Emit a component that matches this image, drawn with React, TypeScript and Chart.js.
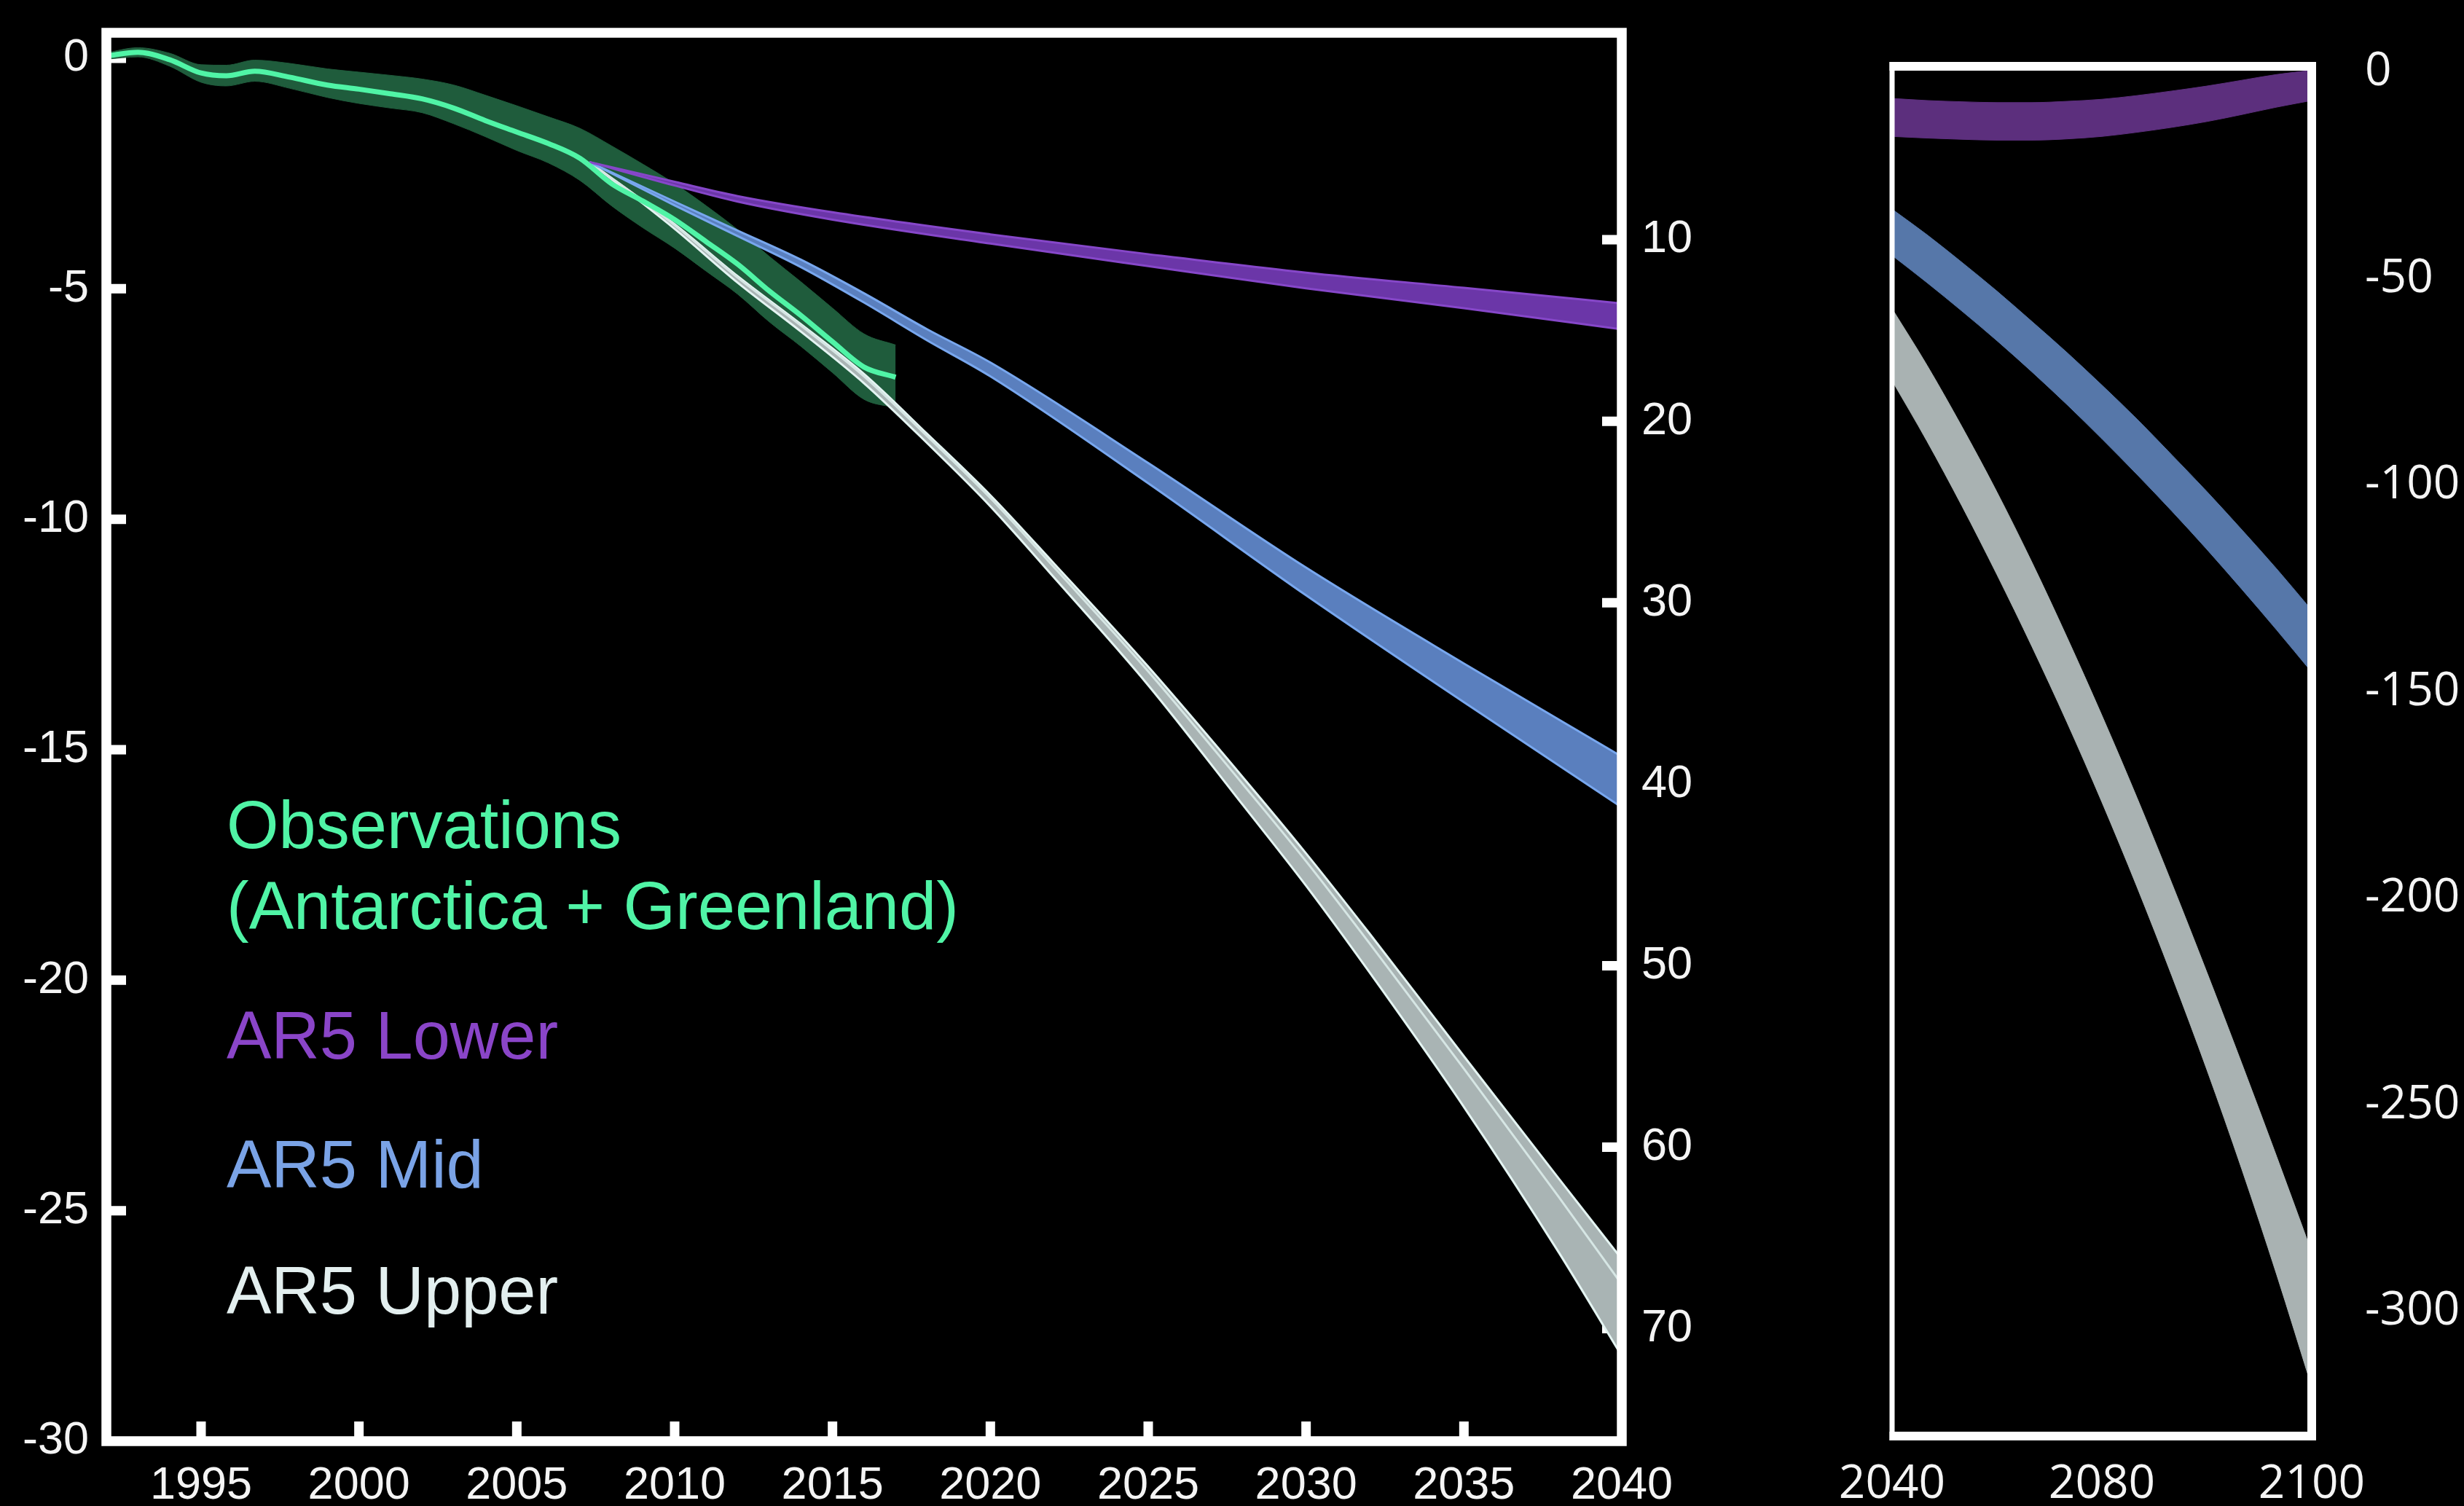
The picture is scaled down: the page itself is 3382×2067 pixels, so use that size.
import React, { useEffect, useRef } from "react";
import { Chart, registerables } from "chart.js";

Chart.register(...registerables);

// ---------------- DATA ----------------
// Main panel axes
const X_TICKS = [1995, 2000, 2005, 2010, 2015, 2020, 2025, 2030, 2035, 2040];
const Y_TICKS_IN = [0, -5, -10, -15, -20, -25, -30];
const Y_TICKS_CM = [10, 20, 30, 40, 50, 60, 70];

// Observations (Antarctica + Greenland), inches
const OBS_YEARS = [1992, 1993, 1994, 1995, 1995.8, 1996.7, 1997.8, 1999, 2000, 2001, 2002, 2003, 2004, 2005, 2006, 2007, 2008, 2009, 2010, 2011, 2012, 2013, 2014, 2015, 2016, 2017];
const OBS_MID = [0.05, 0.13, -0.03, -0.32, -0.38, -0.28, -0.41, -0.58, -0.67, -0.77, -0.88, -1.08, -1.35, -1.6, -1.85, -2.17, -2.72, -3.1, -3.5, -3.98, -4.47, -5.05, -5.58, -6.15, -6.7, -6.92];
const OBS_HIGH = [0.12, 0.23, 0.11, -0.14, -0.15, -0.04, -0.11, -0.23, -0.3, -0.37, -0.45, -0.58, -0.8, -1.03, -1.27, -1.52, -1.9, -2.3, -2.72, -3.2, -3.72, -4.3, -4.85, -5.42, -5.98, -6.22];
const OBS_LOW = [-0.02, 0.03, -0.17, -0.52, -0.6, -0.5, -0.65, -0.85, -0.98, -1.08, -1.18, -1.42, -1.7, -2.0, -2.27, -2.65, -3.2, -3.68, -4.12, -4.62, -5.12, -5.72, -6.25, -6.82, -7.4, -7.58];

// AR5 projections to 2040, inches
const LOWER_YEARS = [2007.3, 2010, 2012, 2015, 2020, 2025, 2030, 2035, 2040];
const LOWER_HIGH = [-2.25, -2.68, -2.99, -3.34, -3.82, -4.25, -4.65, -4.98, -5.32];
const LOWER_LOW = [-2.25, -2.76, -3.11, -3.5, -4.02, -4.51, -4.99, -5.42, -5.88];

const MID_YEARS = [2007.3, 2010, 2012, 2014, 2016, 2018, 2020, 2025, 2030, 2035, 2040];
const MID_HIGH = [-2.25, -3.11, -3.74, -4.37, -5.1, -5.88, -6.6, -8.78, -11.05, -13.13, -15.15];
const MID_LOW = [-2.25, -3.19, -3.86, -4.53, -5.3, -6.12, -6.9, -9.22, -11.65, -13.97, -16.25];

const UPPER_YEARS = [2007.3, 2010, 2012, 2014, 2016, 2018, 2020, 2022, 2025, 2028, 2030, 2032, 2035, 2038, 2040];
const UPPER_HIGH = [-2.25, -3.6, -4.73, -5.77, -6.85, -8.15, -9.48, -10.95, -13.2, -15.6, -17.25, -18.98, -21.65, -24.3, -26.05];
const UPPER_INNER = [-2.25, -3.62, -4.76, -5.8, -6.9, -8.2, -9.54, -11.03, -13.3, -15.75, -17.42, -19.19, -21.92, -24.7, -26.6];
const UPPER_LOW = [-2.25, -3.7, -4.87, -5.93, -7.05, -8.35, -9.72, -11.25, -13.6, -16.2, -17.95, -19.82, -22.75, -25.9, -28.15];

// Inset panel (2040-2100), cm
const INSET_X_TICKS = [2040, 2070, 2100];
const INSET_X_LABELS = ["2040", "2080", "2100"];
const INSET_Y_TICKS = [0, -50, -100, -150, -200, -250, -300];
const INSET_YEARS = [2040, 2045, 2050, 2055, 2060, 2065, 2070, 2075, 2080, 2085, 2090, 2095, 2100];
const INSET_LOWER_HIGH = [-6.4, -6.9, -7.2, -7.4, -7.4, -7.1, -6.6, -5.7, -4.6, -3.4, -2.0, -0.6, 0.4];
const INSET_LOWER_LOW = [-15.6, -16.0, -16.3, -16.5, -16.5, -16.2, -15.6, -14.6, -13.4, -12.0, -10.3, -8.5, -6.9];
const INSET_MID_HIGH = [-33.2, -39.4, -46.1, -53.05, -60.4, -67.9, -75.8, -84.0, -92.7, -101.55, -110.8, -120.3, -130.3];
const INSET_MID_LOW = [-44.4, -51.0, -57.9, -65.05, -72.6, -80.5, -88.8, -97.4, -106.3, -115.55, -125.2, -135.1, -145.3];
const INSET_UPPER_HIGH = [-57.3, -71.0, -85.9, -101.7, -118.7, -136.8, -155.75, -175.6, -196.4, -217.9, -240, -262.6, -285.7];
const INSET_UPPER_LOW = [-74.7, -89.4, -105.1, -121.7, -139.1, -157.4, -176.75, -197.2, -218.8, -241.5, -265.6, -291.2, -318.3];

// Legend
const LEGEND_LINES = ["Observations", "(Antarctica + Greenland)", "AR5 Lower", "AR5 Mid", "AR5 Upper"];
const LEGEND_COLORS = ["#50f4a6", "#50f4a6", "#8a45c8", "#7aa3e6", "#e3efef"];

// ---------------- STYLE ----------------
const MAIN_FONT = "'Liberation Sans', Arial, sans-serif";
const INSET_FONT = "'Open Sans', 'DejaVu Sans', sans-serif";
const IN_TO_CM = 2.54;

const pts = (xs: number[], ys: number[]) => xs.map((x, i) => ({ x, y: ys[i] }));

function lineSet(xs: number[], ys: number[], color: string, width: number) {
  return {
    data: pts(xs, ys),
    borderColor: color,
    borderWidth: width,
    pointRadius: 0,
    fill: false,
    cubicInterpolationMode: "monotone",
  };
}

function bandSets(xs: number[], hi: number[], lo: number[], fill: string, edge: string, edgeWidth: number) {
  return [
    lineSet(xs, hi, edge, edgeWidth),
    { ...lineSet(xs, lo, edge, edgeWidth), fill: "-1", backgroundColor: fill },
  ];
}

const noPad = (s: any) => {
  s.paddingTop = 0;
  s.paddingBottom = 0;
  s.paddingLeft = 0;
  s.paddingRight = 0;
};

const mainDecor = {
  id: "mainDecor",
  beforeDatasetsDraw(chart: any) {
    const { ctx, chartArea: a, scales } = chart;
    const TL = 27;
    ctx.save();
    ctx.strokeStyle = "#ffffff";
    ctx.lineWidth = 13;
    ctx.lineCap = "butt";
    ctx.beginPath();
    for (const t of scales.x.ticks) {
      if (t.value >= scales.x.max || t.value <= scales.x.min) continue;
      const px = scales.x.getPixelForValue(t.value);
      ctx.moveTo(px, a.bottom);
      ctx.lineTo(px, a.bottom - TL);
    }
    for (const t of scales.y.ticks) {
      if (t.value <= scales.y.min) continue;
      const py = scales.y.getPixelForValue(t.value);
      ctx.moveTo(a.left, py);
      ctx.lineTo(a.left + TL, py);
    }
    for (const t of scales.y2.ticks) {
      const py = scales.y2.getPixelForValue(t.value);
      ctx.moveTo(a.right, py);
      ctx.lineTo(a.right - TL, py);
    }
    ctx.stroke();
    ctx.restore();
  },
  afterDraw(chart: any) {
    const { ctx, chartArea: a } = chart;
    ctx.save();
    ctx.strokeStyle = "#ffffff";
    ctx.lineWidth = 13.5;
    ctx.strokeRect(a.left, a.top, a.right - a.left, a.bottom - a.top);
    // legend text
    const baselines = [1164, 1275, 1453, 1630, 1803];
    ctx.font = `92px ${MAIN_FONT}`;
    ctx.textAlign = "left";
    ctx.textBaseline = "alphabetic";
    LEGEND_LINES.forEach((s, i) => {
      ctx.fillStyle = LEGEND_COLORS[i];
      ctx.fillText(s, 311, baselines[i]);
    });
    ctx.restore();
  },
};

const insetDecor = {
  id: "insetDecor",
  afterDraw(chart: any) {
    const { ctx, chartArea: a } = chart;
    ctx.save();
    ctx.fillStyle = "#ffffff";
    const w = a.right - a.left;
    const h = a.bottom - a.top;
    ctx.fillRect(a.left - 3.5, a.top - 6, w + 9.5, 12);
    ctx.fillRect(a.left - 3.5, a.bottom - 6, w + 9.5, 12);
    ctx.fillRect(a.left - 3.5, a.top - 6, 7, h + 12);
    ctx.fillRect(a.right - 6, a.top - 6, 12, h + 12);
    ctx.restore();
  },
};

export default function App() {
  const mainRef = useRef<HTMLCanvasElement>(null);
  const insetRef = useRef<HTMLCanvasElement>(null);

  useEffect(() => {
    document.body.style.margin = "0";
    document.body.style.background = "#000";

    const tickColor = "#f4f4f4";

    const mainChart = new Chart(mainRef.current as HTMLCanvasElement, {
      type: "line",
      data: {
        datasets: [
          lineSet(OBS_YEARS, OBS_MID, "#50f4a6", 7),
          ...bandSets(LOWER_YEARS, LOWER_HIGH, LOWER_LOW, "#6b36a8", "#8647c9", 3),
          ...bandSets(MID_YEARS, MID_HIGH, MID_LOW, "#5a7fbe", "#78a7ee", 3),
          lineSet(UPPER_YEARS, UPPER_INNER, "#d6e6e4", 3),
          ...bandSets(UPPER_YEARS, UPPER_HIGH, UPPER_LOW, "#a9b4b4", "#e4f4f2", 3),
          ...bandSets(OBS_YEARS, OBS_HIGH, OBS_LOW, "#1f5c3c", "#1f5c3c", 1),
        ] as any,
      },
      options: {
        responsive: false,
        animation: false,
        devicePixelRatio: 1,
        events: [],
        layout: { padding: { top: 45, left: 0, right: 0, bottom: 0 } },
        plugins: { legend: { display: false }, tooltip: { enabled: false } },
        scales: {
          x: {
            type: "linear",
            position: "bottom",
            min: 1992,
            max: 2040,
            grid: { display: false, drawTicks: false },
            border: { display: false },
            afterBuildTicks: (s: any) => {
              s.ticks = X_TICKS.map((v) => ({ value: v }));
            },
            afterFit: (s: any) => {
              s.height = 89;
              noPad(s);
            },
            ticks: {
              color: tickColor,
              font: { family: MAIN_FONT, size: 63 },
              padding: 24,
              autoSkip: false,
              maxRotation: 0,
              callback: (v: any) => String(v),
            },
          },
          y: {
            type: "linear",
            position: "left",
            min: -30,
            max: 0.553,
            grid: { display: false, drawTicks: false },
            border: { display: false },
            afterBuildTicks: (s: any) => {
              s.ticks = Y_TICKS_IN.map((v) => ({ value: v }));
            },
            afterFit: (s: any) => {
              s.width = 146;
              noPad(s);
            },
            ticks: {
              color: tickColor,
              font: { family: MAIN_FONT, size: 63 },
              padding: 24,
              autoSkip: false,
              callback: (v: any) => String(v),
            },
          },
          y2: {
            type: "linear",
            position: "right",
            reverse: true,
            min: -0.553 * IN_TO_CM,
            max: 30 * IN_TO_CM,
            grid: { display: false, drawTicks: false },
            border: { display: false },
            afterBuildTicks: (s: any) => {
              s.ticks = Y_TICKS_CM.map((v) => ({ value: v }));
            },
            afterFit: (s: any) => {
              s.width = 2420 - 2226;
              noPad(s);
            },
            ticks: {
              color: tickColor,
              font: { family: MAIN_FONT, size: 63 },
              padding: 27,
              autoSkip: false,
              callback: (v: any) => String(v),
            },
          },
        },
      } as any,
      plugins: [mainDecor],
    });

    const insetChart = new Chart(insetRef.current as HTMLCanvasElement, {
      type: "line",
      data: {
        datasets: [
          ...bandSets(INSET_YEARS, INSET_LOWER_HIGH, INSET_LOWER_LOW, "#5c2f7d", "#5c2f7d", 1),
          ...bandSets(INSET_YEARS, INSET_MID_HIGH, INSET_MID_LOW, "#5677a9", "#5677a9", 1),
          ...bandSets(INSET_YEARS, INSET_UPPER_HIGH, INSET_UPPER_LOW, "#a9b2b2", "#a9b2b2", 1),
        ] as any,
      },
      options: {
        responsive: false,
        animation: false,
        devicePixelRatio: 1,
        events: [],
        layout: { padding: { top: 91, left: 157, right: 0, bottom: 0 } },
        plugins: { legend: { display: false }, tooltip: { enabled: false } },
        scales: {
          x: {
            type: "linear",
            position: "bottom",
            min: 2040,
            max: 2100,
            grid: { display: false, drawTicks: false },
            border: { display: false },
            afterBuildTicks: (s: any) => {
              s.ticks = INSET_X_TICKS.map((v) => ({ value: v }));
            },
            afterFit: (s: any) => {
              s.height = 96;
              noPad(s);
            },
            ticks: {
              color: tickColor,
              font: { family: INSET_FONT, size: 64 },
              padding: 28,
              autoSkip: false,
              maxRotation: 0,
              callback: (v: any) => INSET_X_LABELS[INSET_X_TICKS.indexOf(Number(v))],
            },
          },
          y: {
            type: "linear",
            position: "right",
            min: -330.2,
            max: 1.38,
            grid: { display: false, drawTicks: false },
            border: { display: false },
            afterBuildTicks: (s: any) => {
              s.ticks = INSET_Y_TICKS.map((v) => ({ value: v }));
            },
            afterFit: (s: any) => {
              s.width = 942 - 733;
              noPad(s);
            },
            ticks: {
              color: tickColor,
              font: { family: INSET_FONT, size: 64 },
              padding: 73,
              autoSkip: false,
              callback: (v: any) => String(v),
            },
          },
        },
      } as any,
      plugins: [insetDecor],
    });

    return () => {
      mainChart.destroy();
      insetChart.destroy();
    };
  }, []);

  return (
    <div
      style={{
        position: "absolute",
        left: 0,
        top: 0,
        width: 3382,
        height: 2067,
        background: "#000",
        overflow: "hidden",
      }}
    >
      <canvas
        ref={mainRef}
        width={2420}
        height={2067}
        style={{ position: "absolute", left: 0, top: 0, width: 2420, height: 2067 }}
      />
      <canvas
        ref={insetRef}
        width={942}
        height={2067}
        style={{ position: "absolute", left: 2440, top: 0, width: 942, height: 2067 }}
      />
    </div>
  );
}
